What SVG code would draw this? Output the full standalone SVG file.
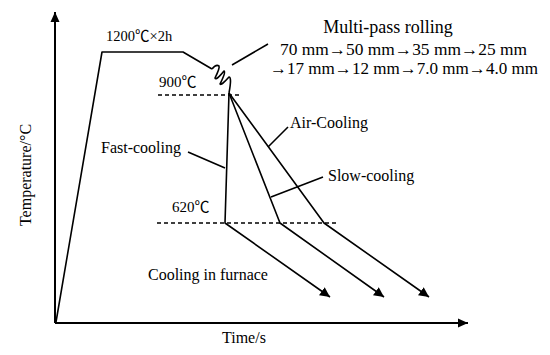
<svg xmlns="http://www.w3.org/2000/svg" width="550" height="355" viewBox="0 0 550 355">
<defs>
<style>
.ln{fill:none;stroke:#000;stroke-width:1.6;stroke-linejoin:round}
.dash{fill:none;stroke:#000;stroke-width:1.5;stroke-dasharray:4 3}
.t{font-family:"Liberation Serif","Noto Sans CJK SC",serif;font-size:16px;fill:#000}
.ax{fill:none;stroke:#000;stroke-width:2}
</style>
<marker id="ah" viewBox="0 0 10 10" refX="10" refY="5" markerWidth="10" markerHeight="10" markerUnits="userSpaceOnUse" orient="auto">
<path d="M0,0 L10,5 L0,10 z" fill="#000"/>
</marker>
<marker id="axh" viewBox="0 0 10 10" refX="10" refY="5" markerWidth="10" markerHeight="10" markerUnits="userSpaceOnUse" orient="auto">
<path d="M0,0.5 L10,5 L0,9.5 z" fill="#000"/>
</marker>
</defs>
<rect width="550" height="355" fill="#fff"/>

<g id="axes">
<line class="ax" x1="55" y1="323" x2="55" y2="12" marker-end="url(#axh)"/>
<line class="ax" x1="55" y1="323" x2="468" y2="323" marker-end="url(#axh)"/>
<text class="t" transform="translate(31,175) rotate(-90)" text-anchor="middle">Temperature/°C</text>
<text class="t" x="222" y="343">Time/s</text>
</g>

<g id="heating">
<polyline class="ln" points="56,322 102,52 183,52 212,69"/>
<text class="t" x="106" y="41" style="font-size:14.5px">1200℃×2h</text>
</g>

<g id="rolling">
<path class="ln" d="M212,69 Q216,64 219,66 Q220,68 215,78 Q216,81 224,71 Q226,72 220,84 Q221,86 229,77 Q232,77 229,93"/>
<line class="ln" x1="232" y1="65" x2="268" y2="44"/>
<text class="t" x="388" y="33" text-anchor="middle" style="font-size:18px">Multi-pass rolling</text>
<text class="t" x="280" y="55" style="font-size:17px" textLength="247" lengthAdjust="spacingAndGlyphs">70 mm→50 mm→35 mm→25 mm</text>
<text class="t" x="270" y="74" style="font-size:17px" textLength="268" lengthAdjust="spacingAndGlyphs">→17 mm→12 mm→7.0 mm→4.0 mm</text>
</g>

<g id="t900">
<line class="dash" x1="158" y1="95" x2="240" y2="95"/>
<text class="t" x="159" y="87" style="font-size:15px">900℃</text>
</g>

<g id="t620">
<line class="dash" x1="157" y1="223" x2="336" y2="223"/>
<text class="t" x="172" y="212" style="font-size:15px">620℃</text>
</g>

<g id="connectors">
<polyline class="ln" points="229,93 225,223 330,297" marker-end="url(#ah)"/>
<polyline class="ln" points="229,93 280,223 384,297" marker-end="url(#ah)"/>
<polyline class="ln" points="229,93 324,223 429,297" marker-end="url(#ah)"/>
<line class="ln" x1="188" y1="152" x2="225" y2="168"/>
<line class="ln" x1="288" y1="127" x2="268" y2="147"/>
<line class="ln" x1="323" y1="177" x2="271" y2="197"/>
</g>

<g id="labels">
<text class="t" x="101" y="153">Fast-cooling</text>
<text class="t" x="290" y="128">Air-Cooling</text>
<text class="t" x="328" y="181">Slow-cooling</text>
<text class="t" x="148" y="280">Cooling in furnace</text>
</g>
</svg>
